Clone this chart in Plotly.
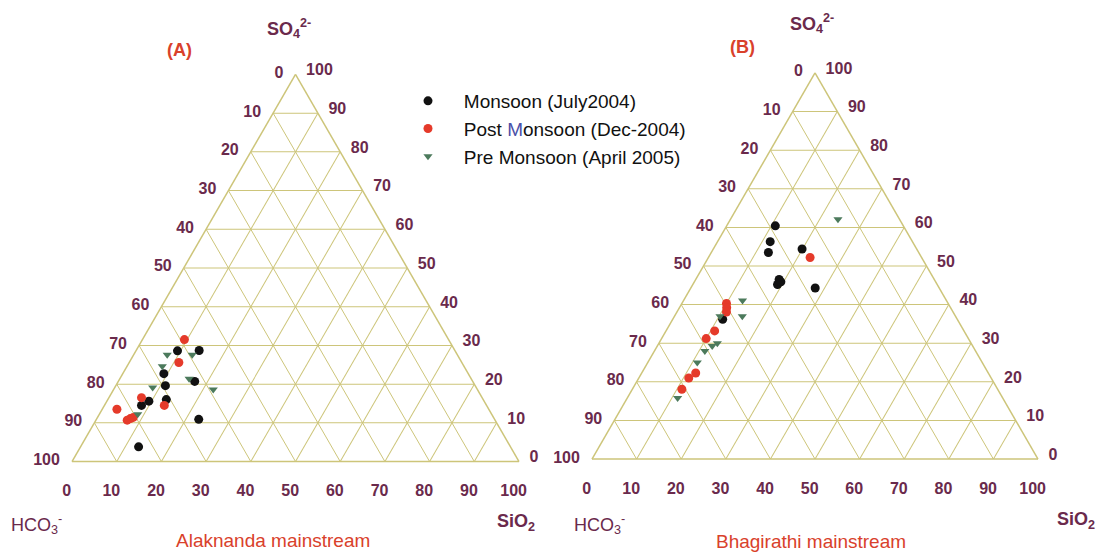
import plotly.graph_objects as go

W, H = 1104, 552

# ---- Alaknanda mainstream: relative % of SO4, HCO3, SiO2 ----
alk_mon_so4 = [28.6, 28.7, 22.7, 20.7, 19.6, 15.6, 14.5, 16.0, 10.9, 3.8]
alk_mon_hco3 = [62.1, 57.2, 68.1, 62.2, 69.3, 75.0, 77.2, 70.9, 66.2, 83.2]
alk_mon_sio2 = [9.3, 14.1, 9.2, 17.1, 11.1, 9.4, 8.3, 13.1, 22.9, 13.0]

alk_post_so4 = [31.5, 25.6, 16.5, 14.5, 13.5, 11.1, 10.7, 11.4]
alk_post_hco3 = [59.1, 63.3, 76.2, 72.1, 83.2, 81.4, 82.3, 80.6]
alk_post_sio2 = [9.4, 11.1, 7.3, 13.4, 3.3, 7.5, 7.0, 8.0]

alk_pre_so4 = [27.6, 27.6, 24.6, 21.4, 18.6, 19.1, 12.2]
alk_pre_hco3 = [64.9, 59.3, 67.5, 63.1, 59.1, 72.4, 79.2]
alk_pre_sio2 = [7.5, 13.1, 7.9, 15.5, 22.3, 8.5, 8.6]

# ---- Bhagirathi mainstream ----
bha_mon_so4 = [60.4, 56.3, 53.5, 54.4, 46.5, 45.2, 45.9, 44.3, 36.2]
bha_mon_hco3 = [28.7, 31.9, 33.7, 25.7, 34.8, 35.8, 34.7, 27.8, 52.6]
bha_mon_sio2 = [10.9, 11.8, 12.8, 19.9, 18.7, 19.0, 19.4, 27.9, 11.2]

bha_post_so4 = [52.2, 40.3, 39.2, 38.1, 33.2, 31.2, 22.3, 21.0, 18.1]
bha_post_hco3 = [25.0, 49.7, 50.2, 50.8, 55.9, 58.8, 65.6, 67.8, 70.8]
bha_post_sio2 = [22.8, 10.0, 10.6, 11.1, 10.9, 10.0, 12.1, 11.2, 11.1]

bha_pre_so4 = [62.1, 41.1, 37.0, 37.0, 30.0, 29.3, 28.0, 25.0, 15.8]
bha_pre_hco3 = [13.8, 45.7, 47.8, 52.8, 56.9, 58.4, 60.7, 63.9, 72.9]
bha_pre_sio2 = [24.1, 13.2, 15.2, 10.2, 13.1, 12.3, 11.3, 11.1, 11.3]

season_names = ["\u00a0\u00a0\u00a0Monsoon (July2004)",
                "\u00a0\u00a0\u00a0Post <span style='color:#4b4fa8'>M</span>onsoon (Dec-2004)",
                "\u00a0\u00a0\u00a0Pre Monsoon (April 2005)"]

tick_vals = list(range(0, 101, 10))
tick_text_rev = [str(100 - v) for v in tick_vals]
# right-edge labels sit a little below their grid line
tick_text_right = ["<br>" + t for t in tick_text_rev]
# bottom labels sit slightly left of their grid line
tick_text_bottom = [t + "\u00a0" * 6 for t in tick_text_rev]

MAROON = "#6a2a4c"
RED = "#d9412b"
GRID = "#cdc57a"
FONT = "Liberation Sans, Arial"

styles = [
    dict(symbol="circle", size=9, color="#111111"),
    dict(symbol="circle", size=9, color="#e53a2a"),
    dict(symbol="triangle-down", size=8, color="#4c7a5c"),
]

fig = go.Figure()

panels = [
    ("ternary", [(alk_mon_so4, alk_mon_hco3, alk_mon_sio2),
                 (alk_post_so4, alk_post_hco3, alk_post_sio2),
                 (alk_pre_so4, alk_pre_hco3, alk_pre_sio2)], True),
    ("ternary2", [(bha_mon_so4, bha_mon_hco3, bha_mon_sio2),
                  (bha_post_so4, bha_post_hco3, bha_post_sio2),
                  (bha_pre_so4, bha_pre_hco3, bha_pre_sio2)], False),
]

for subplot, sets, show in panels:
    for i, (so4, hco3, sio2) in enumerate(sets):
        fig.add_trace(go.Scatterternary(
            a=so4, b=hco3, c=sio2, mode="markers", subplot=subplot,
            name=season_names[i], showlegend=show, legendgroup=f"g{i}",
            marker=dict(symbol=styles[i]["symbol"], size=styles[i]["size"],
                        color=styles[i]["color"], line=dict(width=0)),
            hoverinfo="skip",
        ))


def axis(ticklen, ticktext):
    return dict(
        min=0, tickmode="array", tickvals=tick_vals, ticktext=ticktext,
        ticks="outside", ticklen=ticklen, tickcolor="rgba(0,0,0,0)",
        tickfont=dict(family=FONT, size=16, color=MAROON, weight="bold"),
        showgrid=True, gridcolor=GRID, gridwidth=1,
        showline=True, linecolor=GRID, linewidth=1.5, title=dict(text=""),
    )


def tern(xc, yc, wpx):
    half_w = wpx / W / 2
    return dict(
        sum=100, bgcolor="white",
        domain=dict(x=[xc - half_w, xc + half_w], y=[yc - 0.36, yc + 0.36]),
        aaxis=axis(9, tick_text_rev),
        baxis=axis(16, tick_text_bottom),
        caxis=axis(15, tick_text_right),
    )


fig.update_layout(
    width=W, height=H, margin=dict(l=0, r=0, t=0, b=0),
    paper_bgcolor="white", plot_bgcolor="white",
    ternary=tern(295.5 / W, 1 - 268 / H, 447),
    ternary2=tern(815 / W, 1 - 266 / H, 446),
    showlegend=True,
    legend=dict(x=408 / W, y=1 - 82 / H, xanchor="left", yanchor="top",
                bgcolor="rgba(0,0,0,0)", tracegroupgap=0,
                font=dict(family=FONT, size=19, color="#111111")),
)


def px(x):
    return x / W


def py(y):
    return 1 - y / H


def label(x, y, text, color, size, bold=False, anchor="center"):
    fig.add_annotation(
        x=px(x), y=py(y), xref="paper", yref="paper", text=text, showarrow=False,
        xanchor=anchor, yanchor="middle",
        font=dict(family=FONT, size=size, color=color,
                  weight="bold" if bold else "normal"),
    )


so4_title = "SO<sub>4</sub><sup>2-</sup>"
hco3_title = "HCO<sub>3</sub><sup>-</sup>"
sio2_title = "SiO<sub>2</sub>"

# panel A
label(179, 50, "(A)", RED, 18, bold=True)
label(289, 28, so4_title, MAROON, 18, bold=True)
label(36, 524, hco3_title, MAROON, 18)
label(516, 522, sio2_title, MAROON, 18, bold=True)
label(273, 540, "Alaknanda mainstream", RED, 19)

# panel B
label(742, 47, "(B)", RED, 18, bold=True)
label(812, 24, so4_title, MAROON, 18, bold=True)
label(599, 524, hco3_title, MAROON, 18)
label(1076, 520, sio2_title, MAROON, 18, bold=True)
label(811, 541, "Bhagirathi mainstream", RED, 19)

fig.write_html("out.html")
